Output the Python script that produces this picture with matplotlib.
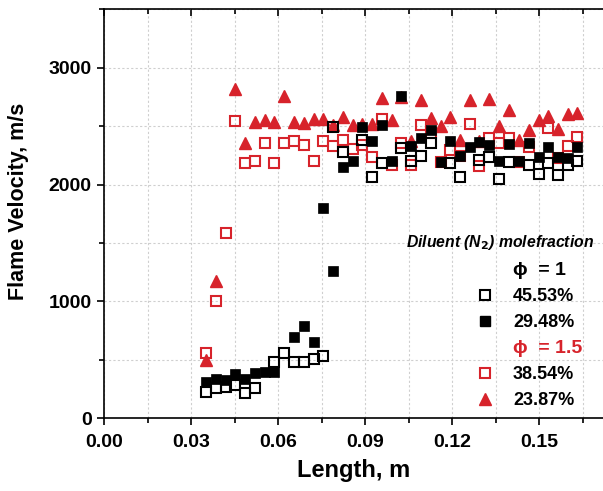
import matplotlib
matplotlib.use("Agg")
import matplotlib.pyplot as plt
from matplotlib.lines import Line2D
from matplotlib.ticker import MultipleLocator, FormatStrFormatter

plt.rcParams['font.family'] = ['Liberation Sans', 'DejaVu Sans']
plt.rcParams['font.weight'] = 'bold'

RED = '#d7232b'

# phi = 1, 45.53 % N2 (open black squares)
x_4553 = [0.0352, 0.0386, 0.0420, 0.0453, 0.0486, 0.0520, 0.0587, 0.0622, 0.0655, 0.0690,
          0.0723, 0.0756, 0.0791, 0.0824, 0.0891, 0.0924, 0.0958, 0.1025, 0.1059, 0.1093,
          0.1127, 0.1193, 0.1228, 0.1294, 0.1328, 0.1362, 0.1396, 0.1464, 0.1498, 0.1531,
          0.1566, 0.1599, 0.1632]
y_4553 = [224, 259, 264, 287, 213, 256, 483, 557, 480, 483,
          506, 534, 2497, 2278, 2378, 2062, 2184, 2309, 2204, 2247,
          2358, 2184, 2068, 2212, 2238, 2044, 2190, 2167, 2090, 2187,
          2084, 2167, 2204]

# phi = 1, 29.48 % N2 (filled black squares)
x_2948 = [0.0352, 0.0386, 0.0420, 0.0453, 0.0486, 0.0520, 0.0554, 0.0587, 0.0655, 0.0690,
          0.0723, 0.0756, 0.0791, 0.0824, 0.0858, 0.0891, 0.0924, 0.0958, 0.0992, 0.1025,
          0.1059, 0.1093, 0.1127, 0.1160, 0.1193, 0.1228, 0.1261, 0.1294, 0.1328, 0.1362,
          0.1396, 0.1430, 0.1464, 0.1498, 0.1531, 0.1566, 0.1599, 0.1632]
y_2948 = [310, 338, 329, 378, 338, 384, 392, 395, 700, 790,
          657, 1800, 1259, 2147, 2201, 2494, 2369, 2509, 2204, 2761,
          2329, 2400, 2468, 2190, 2372, 2247, 2318, 2366, 2338, 2201,
          2346, 2204, 2355, 2238, 2318, 2232, 2227, 2318]

# phi = 1.5, 38.54 % N2 (open red squares)
x_3854 = [0.0352, 0.0386, 0.0420, 0.0453, 0.0486, 0.0520, 0.0554, 0.0587, 0.0622, 0.0655,
          0.0690, 0.0723, 0.0756, 0.0791, 0.0824, 0.0858, 0.0891, 0.0924, 0.0958, 0.0992,
          0.1025, 0.1059, 0.1093, 0.1127, 0.1160, 0.1193, 0.1228, 0.1261, 0.1294, 0.1328,
          0.1362, 0.1396, 0.1430, 0.1464, 0.1531, 0.1566, 0.1599, 0.1632]
y_3854 = [557, 1004, 1584, 2543, 2184, 2204, 2352, 2184, 2352, 2369,
          2338, 2204, 2375, 2332, 2383, 2306, 2340, 2238, 2560, 2170,
          2360, 2170, 2509, 2445, 2195, 2298, 2245, 2522, 2155, 2398,
          2358, 2398, 2190, 2318, 2488, 2228, 2332, 2403]

# phi = 1.5, 23.87 % N2 (red triangles)
x_2387 = [0.0352, 0.0386, 0.0453, 0.0486, 0.0520, 0.0554, 0.0587, 0.0622, 0.0655, 0.0690,
          0.0723, 0.0756, 0.0791, 0.0824, 0.0858, 0.0891, 0.0924, 0.0958, 0.0992, 0.1025,
          0.1059, 0.1093, 0.1127, 0.1160, 0.1193, 0.1228, 0.1261, 0.1294, 0.1328, 0.1362,
          0.1396, 0.1430, 0.1464, 0.1498, 0.1531, 0.1566, 0.1599, 0.1632]
y_2387 = [495, 1171, 2822, 2355, 2539, 2550, 2532, 2757, 2536, 2524,
          2557, 2561, 2507, 2582, 2510, 2522, 2519, 2745, 2551, 2753,
          2377, 2728, 2573, 2503, 2578, 2382, 2721, 2372, 2730, 2505,
          2636, 2381, 2464, 2556, 2585, 2478, 2606, 2612]

labels = ['45.53%', '29.48%', '38.54%', '23.87%']
header_1 = 'ϕ  = 1'
header_15 = 'ϕ  = 1.5'
legend_title = 'Diluent (N$_\\mathbf{2}$) molefraction'
xticks = [0.00, 0.03, 0.06, 0.09, 0.12, 0.15]
yticks = [0, 1000, 2000, 3000]

fig = plt.figure(figsize=(6.03, 4.91), dpi=100)
ax = fig.add_axes([104/603, 72.7/491, 499/603, 409/491])

ms_sq = 6.5
mew = 1.5
ax.plot(x_2387, y_2387, ls='none', marker='^', ms=9, color=RED, mec=RED, zorder=3)
ax.plot(x_3854, y_3854, ls='none', marker='s', ms=ms_sq, mfc='none', mec=RED, mew=mew, zorder=4)
ax.plot(x_2948, y_2948, ls='none', marker='s', ms=ms_sq + 1, mfc='black', mec='black', mew=0.5, zorder=5)
ax.plot(x_4553, y_4553, ls='none', marker='s', ms=ms_sq, mfc='none', mec='black', mew=mew, zorder=6)

ax.set_xlim(0, 0.172)
ax.set_ylim(0, 3500)
ax.set_xticks(xticks)
ax.set_yticks(yticks)
ax.xaxis.set_major_formatter(FormatStrFormatter('%.2f'))
ax.xaxis.set_minor_locator(MultipleLocator(0.015))
ax.yaxis.set_minor_locator(MultipleLocator(500))

ax.grid(True, which='both', color='#cfcfcf', ls=(0, (2, 2)), lw=0.8, zorder=0)
ax.set_axisbelow(True)

for s in ['left', 'bottom', 'top']:
    ax.spines[s].set_linewidth(1.2)
ax.spines['right'].set_visible(False)

ax.tick_params(which='major', direction='out', length=5, width=1.2, labelsize=14, pad=4,
               top=False)
ax.tick_params(axis='x', which='major', pad=6)
ax.tick_params(which='minor', direction='out', length=3.5, width=1.2, top=False)
ax.tick_params(axis='x', which='both', top=True)
for t in ax.xaxis.get_major_ticks() + ax.xaxis.get_minor_ticks():
    t.tick2line.set_marker(3)  # inward on top

ax.set_xlabel('Length, m', fontsize=17, fontweight='bold', labelpad=6)
ax.set_ylabel('Flame Velocity, m/s', fontsize=15.5, fontweight='bold')
ax.yaxis.set_label_coords(-0.15, 0.53)

ax.text((406 - 104) / 499, (418.3 - 243) / 409, legend_title, transform=ax.transAxes,
        ha='left', va='center', fontsize=11.3, fontweight='bold', fontstyle='italic')

blank = Line2D([], [], ls='none')
handles = [blank,
           Line2D([], [], ls='none', marker='s', ms=ms_sq, mfc='none', mec='black', mew=mew),
           Line2D([], [], ls='none', marker='s', ms=ms_sq + 1, mfc='black', mec='black'),
           blank,
           Line2D([], [], ls='none', marker='s', ms=ms_sq, mfc='none', mec=RED, mew=mew),
           Line2D([], [], ls='none', marker='^', ms=9, color=RED)]
leg_labels = [header_1, labels[0], labels[1], header_15, labels[2], labels[3]]
leg = ax.legend(handles, leg_labels, loc='upper left',
                bbox_to_anchor=((474 - 104) / 499, (418.3 - 262) / 409),
                frameon=False, fontsize=13,
                handlelength=1.2, handletextpad=0.96, labelspacing=0.5, borderpad=0,
                borderaxespad=0)
texts = leg.get_texts()
texts[0].set_fontsize(14)
texts[3].set_fontsize(14)
texts[3].set_color(RED)
for t in texts:
    t.set_fontweight('bold')

fig.savefig('out.png', dpi=100)
